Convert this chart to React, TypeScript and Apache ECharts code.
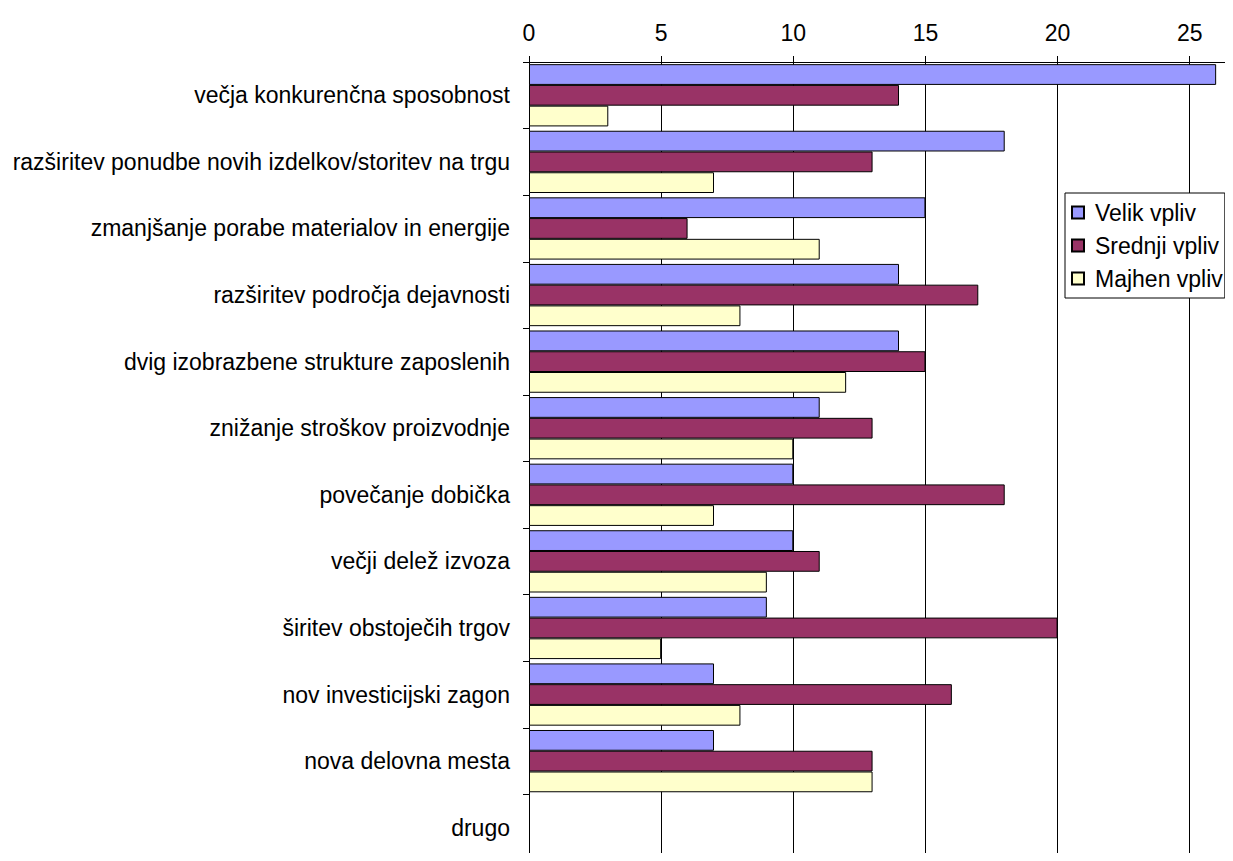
import React, { useEffect, useRef } from "react";
import * as echarts from "echarts";

const categories = [
  "večja konkurenčna sposobnost",
  "razširitev ponudbe novih izdelkov/storitev na trgu",
  "zmanjšanje porabe materialov in energije",
  "razširitev področja dejavnosti",
  "dvig izobrazbene strukture zaposlenih",
  "znižanje stroškov proizvodnje",
  "povečanje dobička",
  "večji delež izvoza",
  "širitev obstoječih trgov",
  "nov investicijski zagon",
  "nova delovna mesta",
  "drugo",
];
const velik = [26, 18, 15, 14, 14, 11, 10, 10, 9, 7, 7, 0];
const srednji = [14, 13, 6, 17, 15, 13, 18, 11, 20, 16, 13, 0];
const majhen = [3, 7, 11, 8, 12, 10, 7, 9, 5, 8, 13, 0];
const seriesNames = ["Velik vpliv", "Srednji vpliv", "Majhen vpliv"];
const colors = ["#9999FF", "#993366", "#FFFFCC"];

export default function App() {
  const ref = useRef<HTMLDivElement>(null);
  useEffect(() => {
    const chart = echarts.init(ref.current!, null, { renderer: "svg" });
    const font = "'Liberation Sans', Arial, sans-serif";
    const data = [velik, srednji, majhen];
    chart.setOption({
      animation: false,
      textStyle: { fontFamily: font },
      grid: { left: 529, top: 62, right: 1, bottom: -3, containLabel: false },
      legend: {
        orient: "vertical",
        left: 1065,
        top: 193,
        data: seriesNames,
        backgroundColor: "#fff",
        borderColor: "#000",
        borderWidth: 1,
        padding: [8, 2, 8, 6],
        itemWidth: 12,
        itemHeight: 12,
        itemGap: 10,
        icon: "rect",
        textStyle: { fontSize: 23, color: "#000", fontFamily: font, padding: [0, 0, 0, 6] },
      },
      xAxis: {
        type: "value",
        position: "top",
        min: 0,
        max: 26.6,
        interval: 5,
        axisLine: { show: true, lineStyle: { color: "#000", width: 1 } },
        axisTick: { show: true, length: 6, lineStyle: { color: "#000" } },
        axisLabel: { show: true, fontSize: 23, color: "#000", margin: 18, showMaxLabel: false, fontFamily: font },
        splitLine: { show: true, lineStyle: { color: "#000", width: 1 } },
      },
      yAxis: {
        type: "category",
        inverse: true,
        data: categories,
        axisLine: { show: true, lineStyle: { color: "#000", width: 1 } },
        axisTick: { show: true, length: 6, lineStyle: { color: "#000" } },
        axisLabel: { fontSize: 23, color: "#000", margin: 19, fontFamily: font },
        splitLine: { show: false },
      },
      series: seriesNames.map((name, i) => ({
        name,
        type: "bar",
        data: data[i].map((v) => (v === 0 ? "-" : v)),
        barGap: "0%",
        barCategoryGap: "6.5%",
        itemStyle: { color: colors[i], borderColor: "#000", borderWidth: 1 },
      })),
    });
    return () => chart.dispose();
  }, []);
  return <div ref={ref} style={{ width: 1233, height: 861, margin: -8 }} />;
}
